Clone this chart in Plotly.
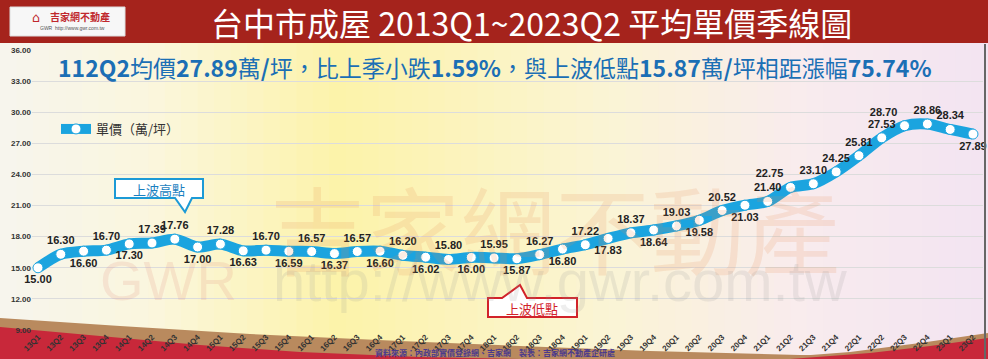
import plotly.graph_objects as go

quarters = ["13Q1","13Q2","13Q3","13Q4","14Q1","14Q2","14Q3","14Q4",
            "15Q1","15Q2","15Q3","15Q4","16Q1","16Q2","16Q3","16Q4",
            "17Q1","17Q2","17Q3","17Q4","18Q1","18Q2","18Q3","18Q4",
            "19Q1","19Q2","19Q3","19Q4","20Q1","20Q2","20Q3","20Q4",
            "21Q1","21Q2","21Q3","21Q4","22Q1","22Q2","22Q3","22Q4",
            "23Q1","23Q2"]
unit_price = [15.00,16.30,16.60,16.70,17.30,17.39,17.76,17.00,
              17.28,16.63,16.70,16.59,16.57,16.37,16.57,16.60,
              16.20,16.02,15.80,16.00,15.95,15.87,16.27,16.80,
              17.22,17.83,18.37,18.64,19.03,19.58,20.52,21.03,
              21.40,22.75,23.10,24.25,25.81,27.53,28.70,28.86,
              28.34,27.89]
label_pos = ["bottom center","top center","bottom center","top center","bottom center","top center","top center","bottom center",
             "top center","bottom center","top center","bottom center","top center","bottom center","top center","bottom center",
             "top center","bottom center","top center","bottom center","top center","bottom center","top center","bottom center",
             "top center","bottom center","top center","bottom center","top center","bottom center","top center","bottom center",
             "top center","top left","top center","top center","top center","top center","top left","top center",
             "top center","bottom center"]
y_ticks = [9,12,15,18,21,24,27,30,33,36]

W, H = 988, 359
ML, MR, MT, MB = 32, 5, 50, 29
PW, PH = W - ML - MR, H - MT - MB
CJK = "Noto Sans CJK TC, Noto Sans CJK SC, sans-serif"

def px(x):
    return (x - ML) / PW

def py(y):
    return (H - MB - y) / PH

x_idx = list(range(len(quarters)))

fig = go.Figure()
fig.add_trace(go.Scatter(
    x=x_idx, y=unit_price, mode="lines+markers+text",
    name="單價（萬/坪）",
    line=dict(color="#1ba4df", width=11, shape="spline", smoothing=0.8),
    marker=dict(size=10, color="white", line=dict(color="#1ba4df", width=1)),
    text=[f"{v:.2f}" for v in unit_price],
    textposition=label_pos,
    textfont=dict(family="Arial", size=11, color="#222222", weight="bold"),
    cliponaxis=False,
))

shapes = []
stops = [(0, (247, 245, 238)), (150, (251, 247, 222)), (340, (253, 243, 170)),
         (600, (251, 245, 212)), (800, (249, 236, 238)), (988, (243, 228, 242))]
N = 60
for i in range(N):
    x0 = W * i / N
    x1 = W * (i + 1) / N
    xm = (x0 + x1) / 2
    for (a, ca), (b, cb) in zip(stops[:-1], stops[1:]):
        if a <= xm <= b:
            t = (xm - a) / (b - a)
            c = tuple(int(ca[k] + (cb[k] - ca[k]) * t) for k in range(3))
            break
    shapes.append(dict(type="rect", xref="paper", yref="paper", layer="below",
                       x0=px(x0), x1=px(x1 + 1), y0=py(H), y1=py(42),
                       fillcolor=f"rgb{c}", line=dict(width=0)))

def path(pts):
    return "M " + " L ".join(f"{px(a):.5f},{py(b):.5f}" for a, b in pts) + " Z"

shapes.append(dict(type="path", xref="paper", yref="paper", layer="below",
                   path=path([(0, 318), (120, 326), (250, 334), (400, 341), (520, 346), (650, 351), (800, 355), (988, 357), (988, 359), (0, 359)]),
                   fillcolor="#b98a5e", line=dict(width=0)))
shapes.append(dict(type="path", xref="paper", yref="paper", layer="below",
                   path=path([(0, 327), (100, 336), (200, 345), (300, 352), (420, 357), (520, 359), (0, 359)]),
                   fillcolor="#c8283a", line=dict(width=0)))
shapes.append(dict(type="path", xref="paper", yref="paper", layer="below",
                   path=path([(760, 359), (850, 352), (920, 343), (988, 333), (988, 359)]),
                   fillcolor="#b98a5e", line=dict(width=0)))
shapes.append(dict(type="path", xref="paper", yref="paper", layer="below",
                   path=path([(790, 359), (870, 353), (930, 346), (988, 338), (988, 359)]),
                   fillcolor="#c8283a", line=dict(width=0)))

shapes.append(dict(type="rect", xref="paper", yref="paper", x0=px(0), x1=px(W), y0=py(43), y1=py(0),
                   fillcolor="#a5231c", line=dict(width=0), layer="below"))
shapes.append(dict(type="rect", xref="paper", yref="paper", x0=px(10), x1=px(125), y0=py(36), y1=py(7),
                   fillcolor="#f7f7f7", line=dict(color="#dddddd", width=1), layer="below"))
shapes.append(dict(type="line", xref="paper", yref="paper", x0=px(985), x1=px(985), y0=py(H), y1=py(44),
                   line=dict(color="#666666", width=2)))

def callout(x0, y0, x1, y1, tip, base, color):
    bx0, bx1 = base
    tx, ty = tip
    if ty > y1:
        pts = [(x0, y0), (x1, y0), (x1, y1), (bx1, y1), (tx, ty), (bx0, y1), (x0, y1)]
    else:
        pts = [(x0, y0), (bx0, y0), (tx, ty), (bx1, y0), (x1, y0), (x1, y1), (x0, y1)]
    return dict(type="path", xref="paper", yref="paper", path=path(pts),
                fillcolor="white", line=dict(color=color, width=2))

shapes.append(callout(115, 179, 203, 198, (185, 212), (175, 192), "#1c9ad6"))
shapes.append(callout(488, 298, 577, 317, (520, 285), (502, 527), "#d2232a"))

def ann(text, x, y, font):
    return dict(text=text, x=px(x), y=py(y), xref="paper", yref="paper", showarrow=False,
                xanchor="center", yanchor="middle", font=font)

annotations = [
    ann("台中市成屋 2013Q1~2023Q2 平均單價季線圖", 531, 22, dict(family=CJK, size=32, color="white")),
    ann("吉家網不動產", 80, 16, dict(family=CJK, size=10, color="#c0282d", weight="bold")),
    ann("GWR  http://www.gwr.com.tw", 72, 28, dict(family="Arial", size=5, color="#555555")),
    ann("⌂", 36, 18, dict(family="DejaVu Sans", size=13, color="#c0282d")),
    ann("<b>112Q2</b>均價<b>27.89</b>萬<b>/</b>坪，比上季小跌<b>1.59%</b>，與上波低點<b>15.87</b>萬<b>/</b>坪相距漲幅<b>75.74%</b>",
        495, 67, dict(family=CJK, size=23, color="#1b6fb5")),
    ann("吉家網不動產", 555, 226, dict(family=CJK, size=95, color="rgba(230,135,80,0.16)")),
    ann("GWR", 168, 280, dict(family="Arial", size=56, color="rgba(220,120,110,0.15)")),
    ann("http://www.gwr.com.tw", 560, 280, dict(family="Arial", size=58, color="rgba(150,150,150,0.16)")),
    ann("上波高點", 159, 189, dict(family=CJK, size=13, color="#1b7fc0")),
    ann("上波低點", 532, 308, dict(family=CJK, size=13, color="#d2232a")),
    ann("資料來源：內政部實價登錄網、吉家網　製表：吉家網不動產企研處", 495, 352,
        dict(family=CJK, size=8, color="#4b3a8c", weight="bold")),
]

fig.update_layout(
    width=W, height=H, autosize=False,
    margin=dict(l=ML, r=MR, t=MT, b=MB, pad=0),
    paper_bgcolor="white", plot_bgcolor="rgba(0,0,0,0)",
    shapes=shapes, annotations=annotations,
    showlegend=True,
    legend=dict(x=px(56), y=py(114), xref="paper", yref="paper", xanchor="left", yanchor="top",
                bgcolor="rgba(0,0,0,0)", font=dict(family=CJK, size=13, color="#333333"),
                itemwidth=30),
    xaxis=dict(range=[-0.263, 41.44], tickmode="array", tickvals=x_idx, ticktext=quarters,
               tickangle=-45, tickfont=dict(family="Arial", size=8, color="#333333", weight="bold"),
               showgrid=False, zeroline=False, showline=False, ticks="", automargin=False),
    yaxis=dict(range=[9, 36], tickmode="array", tickvals=y_ticks,
               ticktext=[f"{v:.2f}" for v in y_ticks],
               tickfont=dict(family="Arial", size=8, color="#333333", weight="bold"),
               showgrid=True, gridcolor="#dcdcdc", gridwidth=1, zeroline=False, showline=False, ticks="",
               automargin=False),
)

fig.write_html("out.html", config={"displayModeBar": False},
               post_script="document.body.style.margin='0';document.body.style.overflow='hidden';window.dispatchEvent(new Event('resize'));")
